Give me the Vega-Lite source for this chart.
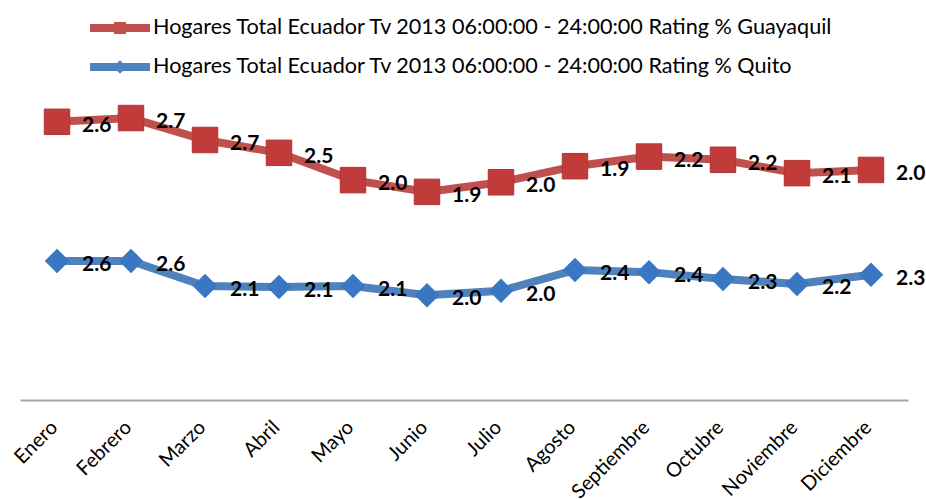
{
  "$schema": "https://vega.github.io/schema/vega-lite/v6.json",
  "width": 888,
  "height": 321,
  "autosize": {"type": "none"},
  "padding": {"left": 20, "top": 79, "right": 18, "bottom": 99},
  "background": "white",
  "config": {"view": {"stroke": null}, "font": "Lato"},
  "data": {"values": [
    {"month": "Enero", "series": "Hogares Total Ecuador Tv 2013 06:00:00 - 24:00:00 Rating % Quito", "ord": 0, "value": 2.6},
    {"month": "Febrero", "series": "Hogares Total Ecuador Tv 2013 06:00:00 - 24:00:00 Rating % Quito", "ord": 0, "value": 2.6},
    {"month": "Marzo", "series": "Hogares Total Ecuador Tv 2013 06:00:00 - 24:00:00 Rating % Quito", "ord": 0, "value": 2.13},
    {"month": "Abril", "series": "Hogares Total Ecuador Tv 2013 06:00:00 - 24:00:00 Rating % Quito", "ord": 0, "value": 2.11},
    {"month": "Mayo", "series": "Hogares Total Ecuador Tv 2013 06:00:00 - 24:00:00 Rating % Quito", "ord": 0, "value": 2.13},
    {"month": "Junio", "series": "Hogares Total Ecuador Tv 2013 06:00:00 - 24:00:00 Rating % Quito", "ord": 0, "value": 1.96},
    {"month": "Julio", "series": "Hogares Total Ecuador Tv 2013 06:00:00 - 24:00:00 Rating % Quito", "ord": 0, "value": 2.04},
    {"month": "Agosto", "series": "Hogares Total Ecuador Tv 2013 06:00:00 - 24:00:00 Rating % Quito", "ord": 0, "value": 2.43},
    {"month": "Septiembre", "series": "Hogares Total Ecuador Tv 2013 06:00:00 - 24:00:00 Rating % Quito", "ord": 0, "value": 2.39},
    {"month": "Octubre", "series": "Hogares Total Ecuador Tv 2013 06:00:00 - 24:00:00 Rating % Quito", "ord": 0, "value": 2.26},
    {"month": "Noviembre", "series": "Hogares Total Ecuador Tv 2013 06:00:00 - 24:00:00 Rating % Quito", "ord": 0, "value": 2.17},
    {"month": "Diciembre", "series": "Hogares Total Ecuador Tv 2013 06:00:00 - 24:00:00 Rating % Quito", "ord": 0, "value": 2.34},
    {"month": "Enero", "series": "Hogares Total Ecuador Tv 2013 06:00:00 - 24:00:00 Rating % Guayaquil", "ord": 1, "value": 2.6},
    {"month": "Febrero", "series": "Hogares Total Ecuador Tv 2013 06:00:00 - 24:00:00 Rating % Guayaquil", "ord": 1, "value": 2.67},
    {"month": "Marzo", "series": "Hogares Total Ecuador Tv 2013 06:00:00 - 24:00:00 Rating % Guayaquil", "ord": 1, "value": 2.73},
    {"month": "Abril", "series": "Hogares Total Ecuador Tv 2013 06:00:00 - 24:00:00 Rating % Guayaquil", "ord": 1, "value": 2.51},
    {"month": "Mayo", "series": "Hogares Total Ecuador Tv 2013 06:00:00 - 24:00:00 Rating % Guayaquil", "ord": 1, "value": 1.98},
    {"month": "Junio", "series": "Hogares Total Ecuador Tv 2013 06:00:00 - 24:00:00 Rating % Guayaquil", "ord": 1, "value": 1.93},
    {"month": "Julio", "series": "Hogares Total Ecuador Tv 2013 06:00:00 - 24:00:00 Rating % Guayaquil", "ord": 1, "value": 2.03},
    {"month": "Agosto", "series": "Hogares Total Ecuador Tv 2013 06:00:00 - 24:00:00 Rating % Guayaquil", "ord": 1, "value": 1.94},
    {"month": "Septiembre", "series": "Hogares Total Ecuador Tv 2013 06:00:00 - 24:00:00 Rating % Guayaquil", "ord": 1, "value": 2.16},
    {"month": "Octubre", "series": "Hogares Total Ecuador Tv 2013 06:00:00 - 24:00:00 Rating % Guayaquil", "ord": 1, "value": 2.23},
    {"month": "Noviembre", "series": "Hogares Total Ecuador Tv 2013 06:00:00 - 24:00:00 Rating % Guayaquil", "ord": 1, "value": 2.07},
    {"month": "Diciembre", "series": "Hogares Total Ecuador Tv 2013 06:00:00 - 24:00:00 Rating % Guayaquil", "ord": 1, "value": 1.96}
  ]},
  "transform": [
    {"stack": "value", "groupby": ["month"], "sort": [{"field": "ord", "order": "ascending"}], "as": ["v0", "v1"]}
  ],
  "encoding": {
    "x": {
      "field": "month", "type": "ordinal",
      "sort": ["Enero", "Febrero", "Marzo", "Abril", "Mayo", "Junio", "Julio", "Agosto", "Septiembre", "Octubre", "Noviembre", "Diciembre"],
      "scale": {"type": "point", "padding": 0.5},
      "axis": {
        "title": null, "labelAngle": -45, "labelAlign": "right", "labelBaseline": "middle",
        "labelPadding": 24, "labelOffset": -3, "labelFontSize": 20, "labelColor": "#000000",
        "ticks": false, "grid": false, "domainColor": "#a6a6a6", "domainWidth": 2, "labelFont": "Lato"
      }
    },
    "y": {"field": "v1", "type": "quantitative", "scale": {"domain": [0, 6], "nice": false, "zero": true}, "axis": null}
  },
  "layer": [
    {
      "transform": [{"filter": "datum.ord == 1"}],
      "mark": {"type": "line", "strokeWidth": 8, "color": "#c0504d"}
    },
    {
      "transform": [{"filter": "datum.ord == 0"}],
      "mark": {"type": "line", "strokeWidth": 8, "color": "#4f81bd"}
    },
    {
      "transform": [{"filter": "datum.ord == 1"}],
      "mark": {"type": "point", "shape": "square", "filled": true, "size": 650, "color": "#c23b3b", "opacity": 1, "stroke": "#b03535", "strokeWidth": 1}
    },
    {
      "transform": [{"filter": "datum.ord == 0"}],
      "mark": {"type": "point", "shape": "diamond", "filled": true, "size": 600, "color": "#3a77c2", "opacity": 1}
    },
    {
      "mark": {"type": "text", "align": "left", "baseline": "middle", "dx": 25, "dy": 4, "fontSize": 21, "fontWeight": "bold", "font": "Lato", "color": "#000000"},
      "encoding": {"text": {"field": "value", "type": "quantitative", "format": ".1f"}}
    },
    {
      "transform": [{"filter": "false"}],
      "mark": {"type": "point", "filled": true, "opacity": 1},
      "encoding": {
        "color": {"field": "series", "type": "nominal",
          "scale": {"domain": ["Hogares Total Ecuador Tv 2013 06:00:00 - 24:00:00 Rating % Guayaquil", "Hogares Total Ecuador Tv 2013 06:00:00 - 24:00:00 Rating % Quito"], "range": ["#c0504d", "#4f81bd"]},
          "legend": {"title": null, "orient": "none", "legendX": 84, "legendY": -67, "direction": "vertical",
            "symbolSize": 900, "symbolOpacity": 1, "labelFontSize": 21.6, "labelFont": "Lato", "labelColor": "#000000",
            "labelLimit": 900, "labelOffset": 17, "rowPadding": 12, "padding": 0}},
        "shape": {"field": "series", "type": "nominal",
          "scale": {"domain": ["Hogares Total Ecuador Tv 2013 06:00:00 - 24:00:00 Rating % Guayaquil", "Hogares Total Ecuador Tv 2013 06:00:00 - 24:00:00 Rating % Quito"],
            "range": ["M-2,-0.27H2V0.27H-2Z M-0.4,-0.4H0.4V0.4H-0.4Z", "M-2,-0.27H2V0.27H-2Z M0,-0.45L0.45,0L0,0.45L-0.45,0Z"]}}
      }
    }
  ]
}
